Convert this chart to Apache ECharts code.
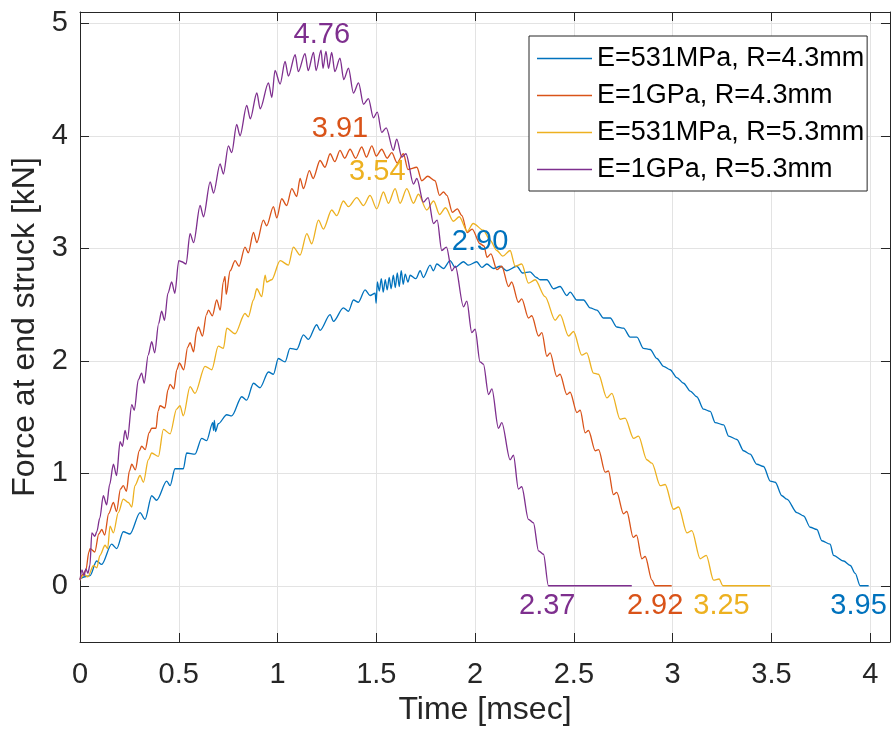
<!DOCTYPE html>
<html><head><meta charset="utf-8">
<script src="https://cdn.jsdelivr.net/npm/echarts@6/dist/echarts.min.js"></script>
<style>html,body{margin:0;padding:0;background:#fff}#c{width:893px;height:737px}</style>
</head><body><div id="c"></div>
<script>
const seriesNames = ['E=531MPa, R=4.3mm','E=1GPa, R=4.3mm','E=531MPa, R=5.3mm','E=1GPa, R=5.3mm'];
const xTicks = [0,0.5,1,1.5,2,2.5,3,3.5,4];
const yTicks = [0,1,2,3,4,5];

const blueData = [[0,0.06],[0.025,0.08],[0.051,0.09],[0.084,0.22],[0.110,0.19],[0.160,0.37],[0.186,0.33],[0.219,0.48],[0.253,0.46],[0.304,0.65],[0.329,0.59],[0.363,0.80],[0.388,0.76],[0.439,0.93],[0.456,0.89],[0.481,1.04],[0.523,1.04],[0.540,1.18],[0.582,1.17],[0.616,1.31],[0.641,1.29],[0.672,1.45],[0.676,1.38],[0.680,1.47],[0.686,1.37],[0.700,1.44],[0.743,1.52],[0.768,1.51],[0.819,1.68],[0.844,1.65],[0.878,1.80],[0.911,1.76],[0.954,1.90],[0.979,1.88],[1.004,2.02],[1.038,1.99],[1.063,2.11],[1.097,2.10],[1.131,2.23],[1.156,2.19],[1.198,2.32],[1.215,2.27],[1.266,2.41],[1.283,2.35],[1.333,2.47],[1.359,2.44],[1.384,2.54],[1.409,2.52],[1.443,2.63],[1.468,2.58],[1.494,2.60],[1.499,2.51],[1.505,2.70],[1.515,2.62],[1.525,2.73],[1.535,2.61],[1.545,2.72],[1.555,2.63],[1.565,2.74],[1.575,2.64],[1.586,2.76],[1.596,2.65],[1.606,2.78],[1.616,2.66],[1.626,2.80],[1.636,2.68],[1.646,2.77],[1.660,2.70],[1.671,2.76],[1.700,2.73],[1.722,2.80],[1.738,2.74],[1.772,2.85],[1.789,2.80],[1.806,2.86],[1.840,2.82],[1.873,2.89],[1.899,2.83],[1.941,2.88],[1.966,2.85],[2.008,2.88],[2.034,2.83],[2.059,2.86],[2.093,2.82],[2.127,2.84],[2.160,2.80],[2.211,2.84],[2.240,2.78],[2.278,2.79],[2.310,2.74],[2.329,2.72],[2.363,2.72],[2.397,2.64],[2.430,2.66],[2.464,2.58],[2.481,2.61],[2.515,2.54],[2.549,2.54],[2.582,2.47],[2.616,2.45],[2.650,2.38],[2.684,2.38],[2.717,2.30],[2.751,2.29],[2.785,2.21],[2.819,2.21],[2.852,2.11],[2.886,2.10],[2.920,2.02],[2.954,1.95],[2.987,1.92],[3.021,1.85],[3.055,1.80],[3.089,1.73],[3.122,1.68],[3.156,1.57],[3.190,1.55],[3.215,1.45],[3.258,1.43],[3.283,1.33],[3.325,1.30],[3.359,1.20],[3.392,1.17],[3.426,1.08],[3.460,1.06],[3.494,0.93],[3.519,0.92],[3.553,0.80],[3.578,0.77],[3.629,0.65],[3.663,0.62],[3.696,0.52],[3.730,0.50],[3.755,0.40],[3.797,0.37],[3.814,0.27],[3.865,0.22],[3.899,0.18],[3.924,0.11],[3.949,0.00],[3.992,0.00]];

const orangeData = [[0,0.06],[0.015,0.10],[0.030,0.14],[0.045,0.30],[0.051,0.33],[0.075,0.30],[0.095,0.46],[0.110,0.50],[0.125,0.45],[0.145,0.64],[0.169,0.74],[0.185,0.66],[0.205,0.86],[0.219,0.89],[0.235,0.84],[0.250,1.02],[0.262,1.08],[0.280,1.03],[0.300,1.20],[0.312,1.24],[0.330,1.21],[0.350,1.36],[0.363,1.40],[0.385,1.40],[0.395,1.55],[0.405,1.60],[0.430,1.58],[0.445,1.74],[0.456,1.79],[0.475,1.75],[0.490,1.92],[0.503,1.98],[0.525,1.92],[0.545,2.12],[0.557,2.16],[0.575,2.08],[0.590,2.26],[0.599,2.30],[0.620,2.22],[0.640,2.41],[0.650,2.45],[0.670,2.40],[0.692,2.54],[0.710,2.45],[0.725,2.70],[0.734,2.75],[0.740,2.59],[0.760,2.80],[0.785,2.89],[0.805,2.84],[0.835,3.01],[0.852,2.96],[0.878,3.14],[0.895,3.05],[0.928,3.25],[0.945,3.20],[0.979,3.37],[0.996,3.27],[1.021,3.44],[1.046,3.38],[1.072,3.53],[1.097,3.46],[1.114,3.62],[1.131,3.53],[1.161,3.69],[1.180,3.62],[1.215,3.78],[1.240,3.72],[1.266,3.84],[1.290,3.77],[1.316,3.87],[1.340,3.80],[1.367,3.88],[1.395,3.80],[1.426,3.90],[1.450,3.81],[1.477,3.91],[1.500,3.82],[1.527,3.88],[1.555,3.80],[1.578,3.85],[1.605,3.76],[1.637,3.84],[1.660,3.70],[1.705,3.72],[1.730,3.60],[1.760,3.64],[1.797,3.60],[1.820,3.47],[1.840,3.50],[1.857,3.47],[1.885,3.32],[1.910,3.35],[1.933,3.29],[1.960,3.14],[1.985,3.17],[2.025,3.04],[2.045,3.02],[2.060,2.92],[2.080,2.95],[2.110,2.81],[2.135,2.84],[2.169,2.66],[2.185,2.70],[2.219,2.52],[2.236,2.55],[2.270,2.38],[2.287,2.40],[2.321,2.22],[2.338,2.25],[2.363,2.04],[2.380,2.07],[2.413,1.86],[2.430,1.88],[2.464,1.70],[2.481,1.72],[2.515,1.54],[2.532,1.56],[2.557,1.36],[2.574,1.38],[2.608,1.20],[2.625,1.21],[2.658,1.01],[2.675,1.02],[2.700,0.81],[2.717,0.83],[2.751,0.64],[2.768,0.66],[2.800,0.43],[2.817,0.45],[2.844,0.24],[2.861,0.26],[2.895,0.05],[2.911,0.00],[2.995,0.00]];

const yellowData = [[0,0.05],[0.020,0.10],[0.040,0.08],[0.068,0.18],[0.085,0.16],[0.101,0.27],[0.127,0.36],[0.140,0.33],[0.152,0.53],[0.169,0.47],[0.194,0.65],[0.219,0.77],[0.245,0.74],[0.262,0.70],[0.278,0.89],[0.304,0.98],[0.321,0.92],[0.346,1.12],[0.363,1.18],[0.397,1.15],[0.422,1.39],[0.456,1.35],[0.489,1.57],[0.506,1.60],[0.523,1.51],[0.557,1.77],[0.582,1.71],[0.633,1.95],[0.667,1.92],[0.700,2.13],[0.726,2.11],[0.743,2.29],[0.785,2.24],[0.835,2.42],[0.852,2.39],[0.878,2.54],[0.895,2.64],[0.920,2.57],[0.937,2.76],[0.945,2.70],[0.970,2.72],[1.013,2.89],[1.055,2.85],[1.080,3.01],[1.114,2.94],[1.148,3.13],[1.173,3.04],[1.207,3.25],[1.232,3.17],[1.274,3.34],[1.300,3.29],[1.333,3.42],[1.359,3.37],[1.401,3.45],[1.435,3.38],[1.468,3.47],[1.502,3.35],[1.536,3.50],[1.561,3.40],[1.595,3.53],[1.620,3.40],[1.654,3.53],[1.688,3.40],[1.713,3.48],[1.755,3.34],[1.790,3.42],[1.820,3.30],[1.850,3.36],[1.890,3.24],[1.920,3.28],[1.960,3.15],[1.990,3.22],[2.042,3.16],[2.076,3.07],[2.110,2.98],[2.140,2.93],[2.177,2.98],[2.203,2.84],[2.236,2.86],[2.270,2.69],[2.304,2.72],[2.354,2.57],[2.405,2.36],[2.430,2.41],[2.473,2.22],[2.498,2.26],[2.540,2.05],[2.565,2.07],[2.599,1.89],[2.624,1.88],[2.667,1.67],[2.692,1.71],[2.734,1.48],[2.759,1.49],[2.802,1.31],[2.827,1.33],[2.869,1.12],[2.895,1.09],[2.937,0.89],[2.962,0.90],[3.004,0.68],[3.030,0.70],[3.072,0.47],[3.097,0.49],[3.139,0.24],[3.170,0.27],[3.207,0.05],[3.235,0.06],[3.254,0.00],[3.494,0.00]];

const purpleData = [[0,0.05],[0.010,0.14],[0.020,0.09],[0.030,0.15],[0.040,0.11],[0.050,0.18],[0.060,0.47],[0.075,0.44],[0.085,0.48],[0.100,0.60],[0.118,0.80],[0.135,0.72],[0.150,0.90],[0.169,1.08],[0.185,0.98],[0.203,1.28],[0.215,1.24],[0.228,1.38],[0.240,1.30],[0.262,1.61],[0.275,1.56],[0.295,1.83],[0.312,1.89],[0.325,1.80],[0.345,2.05],[0.363,2.17],[0.378,2.07],[0.398,2.33],[0.413,2.44],[0.428,2.36],[0.445,2.60],[0.464,2.70],[0.480,2.60],[0.500,2.89],[0.515,2.88],[0.537,2.86],[0.557,3.13],[0.575,3.05],[0.608,3.38],[0.625,3.28],[0.659,3.59],[0.676,3.49],[0.709,3.75],[0.726,3.66],[0.751,3.91],[0.768,3.85],[0.793,4.10],[0.810,4.00],[0.844,4.27],[0.862,4.15],[0.895,4.38],[0.912,4.24],[0.954,4.47],[0.971,4.34],[0.987,4.58],[1.013,4.46],[1.038,4.66],[1.055,4.53],[1.089,4.72],[1.105,4.57],[1.139,4.73],[1.155,4.58],[1.182,4.74],[1.195,4.58],[1.220,4.76],[1.230,4.60],[1.245,4.75],[1.258,4.60],[1.274,4.74],[1.290,4.57],[1.316,4.69],[1.335,4.50],[1.359,4.60],[1.384,4.38],[1.410,4.47],[1.435,4.28],[1.460,4.33],[1.485,4.16],[1.505,4.21],[1.527,4.03],[1.550,4.07],[1.586,3.87],[1.603,3.97],[1.629,3.81],[1.650,3.84],[1.688,3.57],[1.705,3.62],[1.738,3.41],[1.762,3.45],[1.789,3.22],[1.808,3.25],[1.831,2.98],[1.855,3.01],[1.882,2.80],[1.900,2.84],[1.941,2.48],[1.958,2.53],[1.983,2.25],[2.000,2.28],[2.025,1.99],[2.042,1.97],[2.068,1.70],[2.085,1.75],[2.118,1.40],[2.135,1.45],[2.177,1.12],[2.194,1.16],[2.219,0.86],[2.236,0.88],[2.270,0.59],[2.295,0.56],[2.321,0.31],[2.346,0.28],[2.371,0.00],[2.793,0.00]];

const annotT = [1.224, 1.316, 1.505, 2.025, 2.365, 2.911, 3.247, 3.941];
const annotF = [4.90, 4.06, 3.68, 3.06, -0.18, -0.18, -0.18, -0.18];
const annotText = ['4.76','3.91','3.54','2.90','2.37','2.92','3.25','3.95'];
const annotSeries = [3, 1, 2, 0, 3, 1, 2, 0];

const colors = ['#0072BD','#D95319','#EDB120','#7E2F8E'];
const FONT = '"Liberation Sans", Arial, Helvetica, sans-serif';
const AX = '#262626';

const chart = echarts.init(document.getElementById('c'), null, {renderer:'canvas'});
const lineSeries = [blueData, orangeData, yellowData, purpleData].map((d,i)=>({
  name: seriesNames[i], type:'line', data:d, showSymbol:false, symbol:'none',
  smooth:0.3, smoothMonotone:'x',
  lineStyle:{color:colors[i], width:1.3}, itemStyle:{color:colors[i]}, animation:false, z:2+i
}));
const annotSeriesObj = {
  type:'scatter', symbolSize:0, silent:true, z:20, animation:false,
  itemStyle:{opacity:1},
  data: annotT.map((t,i)=>({value:[t, annotF[i]], label:{color:colors[annotSeries[i]], formatter:annotText[i]}})),
  label:{show:true, position:'inside', fontSize:29, fontFamily:FONT, textBorderWidth:0, textShadowBlur:0, opacity:1}
};
const commonLabel = {fontSize:29, color:AX, fontFamily:FONT};
chart.setOption({
  animation:false,
  backgroundColor:'#fff',
  color: colors,
  grid:{left:80, right:3, top:12, bottom:95, containLabel:false},
  legend:{
    data: seriesNames, orient:'vertical', left:529, top:36,
    padding:[9,3,8,8], itemWidth:55, itemHeight:1.5, itemGap:10, icon:'rect',
    backgroundColor:'#fff', borderColor:AX, borderWidth:1, borderRadius:0,
    textStyle:{fontSize:27, color:'#000', fontFamily:FONT, lineHeight:27}
  },
  xAxis:[{
    type:'value', min:0, max:4.1, splitNumber:8, position:'bottom',
    name:'Time [msec]', nameLocation:'middle', nameGap:46,
    nameTextStyle:{fontSize:32, color:AX, fontFamily:FONT},
    axisLine:{show:true, onZero:false, lineStyle:{color:AX, width:1}},
    axisTick:{show:true, inside:true, length:9, customValues:xTicks, lineStyle:{color:AX}},
    axisLabel:Object.assign({customValues:xTicks, margin:18, formatter:v=>String(v)}, commonLabel),
    splitLine:{show:true, lineStyle:{color:'#e3e3e3', width:1}}
  },{
    type:'value', min:0, max:4.1, position:'top',
    axisLine:{show:true, onZero:false, lineStyle:{color:AX, width:1}},
    axisTick:{show:true, inside:true, length:9, customValues:xTicks, lineStyle:{color:AX}},
    axisLabel:{show:false}, splitLine:{show:false}
  }],
  yAxis:[{
    type:'value', min:-0.5, max:5.1, splitNumber:5, position:'left',
    name:'Force at end struck [kN]', nameLocation:'middle', nameGap:33, nameRotate:90,
    nameTextStyle:{fontSize:32, color:AX, fontFamily:FONT},
    axisLine:{show:true, onZero:false, lineStyle:{color:AX, width:1}},
    axisTick:{show:true, inside:true, length:9, customValues:yTicks, lineStyle:{color:AX}},
    axisLabel:Object.assign({customValues:yTicks, margin:12, formatter:v=>String(v)}, commonLabel),
    splitLine:{show:true, lineStyle:{color:'#e3e3e3', width:1}}
  },{
    type:'value', min:-0.5, max:5.1, position:'right',
    axisLine:{show:true, onZero:false, lineStyle:{color:AX, width:1}},
    axisTick:{show:true, inside:true, length:9, customValues:yTicks, lineStyle:{color:AX}},
    axisLabel:{show:false}, splitLine:{show:false}
  }],
  series: lineSeries.concat([annotSeriesObj])
});
</script></body></html>
